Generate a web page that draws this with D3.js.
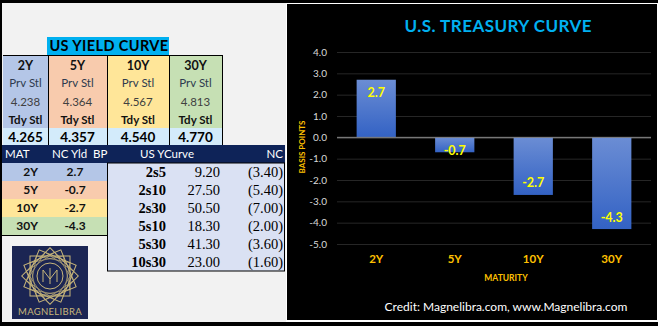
<!DOCTYPE html>
<meta charset="utf-8">
<style>
body { margin: 0; background: #fff; }
svg text { font-family: Lato, "Open Sans", sans-serif; }
.serif { font-family: "Liberation Serif", "DejaVu Serif", serif !important; }
</style>
<svg width="658" height="326"></svg>
<script src="https://d3js.org/d3.v7.min.js"></script>
<script>

// data
var tenors = ["2Y", "5Y", "10Y", "30Y"];
var prvStl = [4.238, 4.364, 4.567, 4.813];
var tdyStl = [4.265, 4.357, 4.540, 4.770];
var ncBp = [2.7, -0.7, -2.7, -4.3];
var tenorColors = ["#b4c6e7", "#f8cbad", "#ffe699", "#c6e0b4"];

var spreadNames = ["2s5", "2s10", "2s30", "5s10", "5s30", "10s30"];
var spreadVals = [9.20, 27.50, 50.50, 18.30, 41.30, 23.00];
var spreadNc = [-3.40, -5.40, -7.00, -2.00, -3.60, -1.60];

var yTicks = [4, 3, 2, 1, 0, -1, -2, -3, -4, -5];

// excel style hyphen minus
var loc = d3.formatLocale({ decimal: ".", thousands: ",", grouping: [3], currency: ["$", ""], minus: "-" });
var f1 = loc.format(".1f"), f2 = loc.format(".2f"), f3 = loc.format(".3f");

var svg = d3.select("svg");

// frame
svg.append("rect").attr("x", 0).attr("y", 0).attr("width", 658).attr("height", 326).attr("fill", "#fff");
svg.append("rect").attr("x", 2).attr("y", 3).attr("width", 284).attr("height", 319).attr("fill", "#f2f2f2");
svg.append("rect").attr("x", 0).attr("y", 0).attr("width", 658).attr("height", 3).attr("fill", "#000");
svg.append("rect").attr("x", 0).attr("y", 0).attr("width", 2).attr("height", 326).attr("fill", "#000");
svg.append("rect").attr("x", 0).attr("y", 322).attr("width", 658).attr("height", 4).attr("fill", "#000");

// ---------- top table ----------
// real column edges are uneven, keep them here
var colEdges = [3, 48, 107, 169, 222];
function cx(i) { return (colEdges[i] + colEdges[i + 1]) / 2; }

svg.append("rect").attr("x", 47).attr("y", 37).attr("width", 122).attr("height", 18).attr("fill", "#00b0f0");
svg.append("text").attr("x", 109).attr("y", 51).attr("text-anchor", "middle")
  .attr("font-size", 14.5).attr("font-weight", "bold").attr("fill", "#000")
  .attr("letter-spacing", 0.4).text("US YIELD CURVE");

var topTbl = svg.append("g");
tenors.forEach(function (t, i) {
  var x0 = colEdges[i], w = colEdges[i + 1] - colEdges[i];
  topTbl.append("rect").attr("x", x0).attr("y", 55).attr("width", w).attr("height", 73).attr("fill", tenorColors[i]);
  topTbl.append("rect").attr("x", x0).attr("y", 128).attr("width", w).attr("height", 17).attr("fill", "#d3ebfb");
  topTbl.append("text").attr("x", cx(i)).attr("y", 70).attr("text-anchor", "middle")
    .attr("font-size", 12.5).attr("font-weight", "bold").attr("fill", "#111").text(t);
  topTbl.append("text").attr("x", cx(i)).attr("y", 87).attr("text-anchor", "middle")
    .attr("font-size", 11.5).attr("fill", "#2f3b4f").text("Prv Stl");
  topTbl.append("text").attr("x", cx(i)).attr("y", 106).attr("text-anchor", "middle")
    .attr("font-size", 11.5).attr("fill", "#404040").text(f3(prvStl[i]));
  topTbl.append("text").attr("x", cx(i)).attr("y", 124).attr("text-anchor", "middle")
    .attr("font-size", 11.5).attr("font-weight", "bold").attr("fill", "#111").text("Tdy Stl");
  topTbl.append("text").attr("x", cx(i)).attr("y", 142).attr("text-anchor", "middle")
    .attr("font-size", 13.5).attr("font-weight", "bold").attr("fill", "#000").text(f3(tdyStl[i]));
});
topTbl.append("line").attr("x1", 3).attr("x2", 222).attr("y1", 55.5).attr("y2", 55.5).attr("stroke", "#000");
colEdges.slice(1).forEach(function (x) {
  topTbl.append("line").attr("x1", x + 0.5).attr("x2", x + 0.5).attr("y1", 55).attr("y2", 145).attr("stroke", "#000");
});

// ---------- navy header ----------
svg.append("rect").attr("x", 2).attr("y", 145).attr("width", 283).attr("height", 18).attr("fill", "#0e2358");
var hdr = [["MAT", 5, "start"], ["NC Yld", 52, "start"], ["BP", 93, "start"], ["US YCurve", 140, "start"], ["NC", 283, "end"]];
hdr.forEach(function (h) {
  svg.append("text").attr("x", h[1]).attr("y", 158).attr("text-anchor", h[2])
    .attr("font-size", 11.5).attr("fill", "#fff").text(h[0]);
});

// ---------- left NC table ----------
var rowY = d3.scaleBand().domain(spreadNames).range([163, 271]);
var leftRow = d3.scaleBand().domain(tenors).range([163, 235]);
tenors.forEach(function (t, i) {
  svg.append("rect").attr("x", 2).attr("y", leftRow(t)).attr("width", 105).attr("height", leftRow.bandwidth())
    .attr("fill", tenorColors[i]);
  var yc = leftRow(t) + leftRow.bandwidth() / 2 + 4;
  svg.append("text").attr("x", 38).attr("y", yc).attr("text-anchor", "end")
    .attr("font-size", 12).attr("font-weight", "bold").attr("fill", "#111").text(t);
  svg.append("text").attr("x", 75).attr("y", yc).attr("text-anchor", "middle")
    .attr("font-size", 12).attr("font-weight", "bold").attr("fill", "#111").text(f1(ncBp[i]));
});
svg.append("line").attr("x1", 2).attr("x2", 107).attr("y1", 235.5).attr("y2", 235.5).attr("stroke", "#000");

// ---------- spread table ----------
var ncFmt = function (d) { return d < 0 ? "(" + f2(-d) + ")" : f2(d); };
svg.append("rect").attr("x", 107.5).attr("y", 163).attr("width", 177).attr("height", 108)
  .attr("fill", "#dae1f3").attr("stroke", "#000");
spreadNames.forEach(function (s, i) {
  var yc = rowY(s) + rowY.bandwidth() / 2 + 5;
  svg.append("text").attr("class", "serif").attr("x", 166).attr("y", yc).attr("text-anchor", "end")
    .attr("font-size", 14.5).attr("font-weight", "bold").attr("fill", "#000").text(s);
  svg.append("text").attr("class", "serif").attr("x", 220).attr("y", yc).attr("text-anchor", "end")
    .attr("font-size", 14.5).attr("fill", "#000").text(f2(spreadVals[i]));
  svg.append("text").attr("class", "serif").attr("x", 283).attr("y", yc).attr("text-anchor", "end")
    .attr("font-size", 14.5).attr("fill", "#000").text(ncFmt(spreadNc[i]));
});

// ---------- logo ----------
var logo = svg.append("g");
logo.append("rect").attr("x", 12).attr("y", 246).attr("width", 76).attr("height", 73).attr("fill", "#1b2553");
var lg = logo.append("g").attr("transform", "translate(50,276)").attr("fill", "none").attr("stroke", "#c8b67a");
[0, 22.5, 45, 67.5].forEach(function (a) {
  lg.append("rect").attr("x", -20).attr("y", -20).attr("width", 40).attr("height", 40)
    .attr("transform", "rotate(" + a + ")").attr("stroke-width", 1);
  lg.append("rect").attr("x", -17).attr("y", -17).attr("width", 34).attr("height", 34)
    .attr("transform", "rotate(" + (a + 11.25) + ")").attr("stroke-width", 0.6);
});
lg.append("circle").attr("r", 13).attr("stroke-width", 1);
lg.append("path").attr("d", "M-7,6 L-7,-6 L0,3 L7,-6 L7,6 M0,-8 L0,8").attr("stroke-width", 1);
logo.append("text").attr("x", 50).attr("y", 315).attr("text-anchor", "middle")
  .attr("font-size", 9.5).attr("fill", "#c8b67a").attr("letter-spacing", 0.3).text("MAGNELIBRA");

// ---------- chart ----------
svg.append("rect").attr("x", 287).attr("y", 4).attr("width", 370).attr("height", 316).attr("fill", "#000");

var defs = svg.append("defs");
var grad = defs.append("linearGradient").attr("id", "barGrad").attr("x1", 0).attr("x2", 0).attr("y1", 0).attr("y2", 1);
grad.append("stop").attr("offset", "0%").attr("stop-color", "#6b8dd4");
grad.append("stop").attr("offset", "100%").attr("stop-color", "#3362c4");

var x = d3.scaleBand().domain(tenors).range([337, 651]).paddingInner(0.5).paddingOuter(0.25);
var y = d3.scaleLinear().domain([-5, 4]).range([244, 52]);

svg.append("text").attr("x", 498).attr("y", 32).attr("text-anchor", "middle")
  .attr("font-size", 17).attr("font-weight", "bold").attr("fill", "#00b0f0")
  .attr("textLength", 187).attr("lengthAdjust", "spacing").text("U.S. TREASURY CURVE");

var yAxis = svg.append("g").attr("transform", "translate(337,0)")
  .call(d3.axisLeft(y).tickValues(yTicks).tickSize(-314).tickPadding(10).tickFormat(f1));
yAxis.select(".domain").remove();
yAxis.selectAll(".tick line").attr("stroke", function (d) { return d === 0 ? "#7f7f7f" : "#262626"; });
yAxis.selectAll(".tick text").attr("fill", "#d9d9d9").attr("font-size", 10).attr("font-family", "Lato, sans-serif");

svg.append("g").selectAll("rect").data(tenors).join("rect")
  .attr("x", function (d) { return x(d); })
  .attr("width", x.bandwidth())
  .attr("y", function (d, i) { return Math.min(y(0), y(ncBp[i])); })
  .attr("height", function (d, i) { return Math.abs(y(ncBp[i]) - y(0)); })
  .attr("fill", "url(#barGrad)");

// zero line over bars
svg.append("line").attr("x1", 337).attr("x2", 651).attr("y1", y(0)).attr("y2", y(0)).attr("stroke", "#7f7f7f");

svg.append("g").selectAll("text").data(tenors).join("text")
  .attr("x", function (d) { return x(d) + x.bandwidth() / 2; })
  .attr("y", function (d, i) {
    var v = ncBp[i], c = v >= 0 ? Math.min(y(0) - 13, y(v) + 13) : Math.max(y(0) + 13, y(v) - 12);
    return c + 4.5;
  })
  .attr("text-anchor", "middle").attr("font-size", 12.5).attr("font-weight", "bold").attr("fill", "#ffff00")
  .text(function (d, i) { return f1(ncBp[i]); });

svg.append("g").selectAll("text").data(tenors).join("text")
  .attr("x", function (d) { return x(d) + x.bandwidth() / 2; })
  .attr("y", 263)
  .attr("text-anchor", "middle").attr("font-size", 11.5).attr("font-weight", "bold").attr("fill", "#ffc000")
  .text(function (d) { return d; });

svg.append("text").attr("x", 506).attr("y", 281).attr("text-anchor", "middle")
  .attr("font-size", 8.5).attr("font-weight", "bold").attr("fill", "#ffc000").text("MATURITY");
svg.append("text").attr("transform", "translate(305,147) rotate(-90)").attr("text-anchor", "middle")
  .attr("font-size", 8).attr("font-weight", "bold").attr("fill", "#ffc000").text("BASIS POINTS");

svg.append("text").attr("x", 506).attr("y", 311).attr("text-anchor", "middle")
  .attr("font-size", 12).attr("fill", "#fff").text("Credit: Magnelibra.com, www.Magnelibra.com");

</script>
